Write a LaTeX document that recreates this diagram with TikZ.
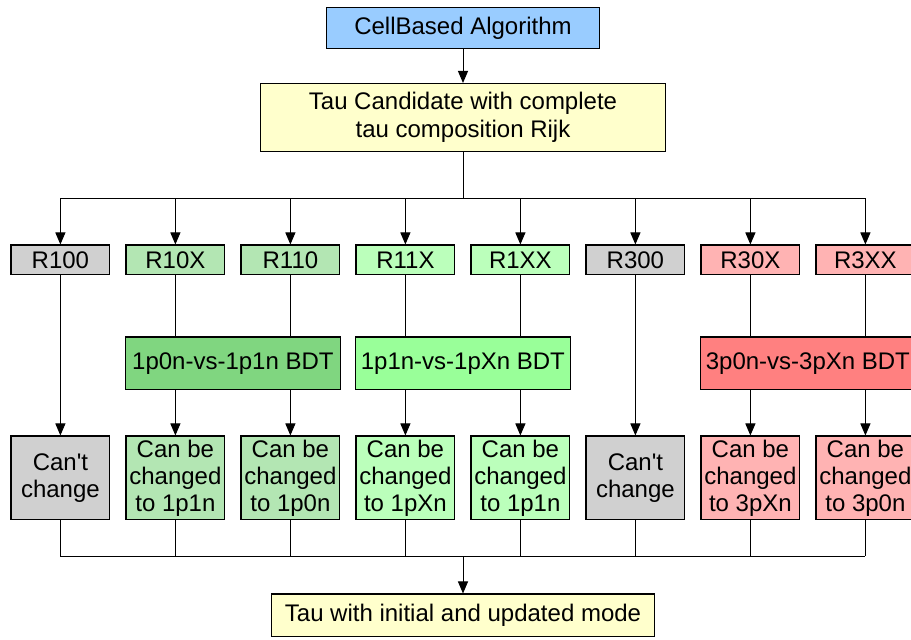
\documentclass[tikz,border=0pt]{standalone}
\usepackage{fontspec}
\setmainfont{Liberation Sans}
\usepackage{tikz}
\usetikzlibrary{
  arrows.meta,
  positioning,
  calc,
}

\definecolor{algoblue}{HTML}{99CCFF}
\definecolor{candyellow}{HTML}{FFFFCC}
\definecolor{greybox}{HTML}{D0D0D0}
\definecolor{oneplight}{HTML}{B3E6B3}
\definecolor{onepdark}{HTML}{80D680}
\definecolor{onexlight}{HTML}{BBFFBB}
\definecolor{onexdark}{HTML}{99FF99}
\definecolor{threelight}{HTML}{FFB3B3}
\definecolor{threedark}{HTML}{FF8080}

\begin{document}
\begin{tikzpicture}[
  >={Triangle[length=6pt,width=5pt]},
  topblock/.style={
    draw, line width=0.7pt, align=center, inner sep=1pt,
    font=\fontsize{12}{14}\selectfont,
  },
  rbox/.style={
    draw, line width=0.7pt, minimum width=49.3pt, minimum height=14.8pt,
    inner sep=1pt, font=\fontsize{12}{13.5}\selectfont,
  },
  bdtbox/.style={rbox, minimum width=107.3pt, minimum height=26.3pt},
  outbox/.style={rbox, align=center, minimum height=41.8pt},
  link/.style={line width=0.5pt},
  flow/.style={->, line width=0.5pt},
]
\useasboundingbox (0,0) rectangle (455.5pt,-320pt);

% ── Top of the chain ────────────────────────────────────────────────
\node[topblock, fill=algoblue, minimum width=136.3pt, minimum height=20.3pt]
  (algo) at (231.5pt,-14pt) {CellBased Algorithm};
\node[topblock, fill=candyellow, minimum width=202.3pt, minimum height=33.8pt,
      below=17pt of algo] (tau)
  {Tau Candidate with complete\\tau composition Rijk};

% ── Decay modes Rijk ────────────────────────────────────────────────
\node[rbox, fill=greybox] (r100) at (30.2pt,-130pt) {R100};
\node[rbox, fill=oneplight, right=7.5pt of r100]   (r10x) {R10X};
\node[rbox, fill=oneplight, right=7.5pt of r10x]   (r110) {R110};
\node[rbox, fill=onexlight, right=7.5pt of r110]   (r11x) {R11X};
\node[rbox, fill=onexlight, right=7.5pt of r11x]   (r1xx) {R1XX};
\node[rbox, fill=greybox, right=7.5pt of r1xx]     (r300) {R300};
\node[rbox, fill=threelight, right=7.5pt of r300]  (r30x) {R30X};
\node[rbox, fill=threelight, right=7.5pt of r30x]  (r3xx) {R3XX};

% ── BDTs ────────────────────────────────────────────────────────────
\coordinate (mid1) at ($(r10x.south)!0.5!(r110.south)$);
\coordinate (mid2) at ($(r11x.south)!0.5!(r1xx.south)$);
\coordinate (mid3) at ($(r30x.south)!0.5!(r3xx.south)$);
\node[bdtbox, fill=onepdark, below=30.5pt of mid1]  (bdt1) {1p0n-vs-1p1n BDT};
\node[bdtbox, fill=onexdark, below=30.5pt of mid2]  (bdt2) {1p1n-vs-1pXn BDT};
\node[bdtbox, fill=threedark, below=30.5pt of mid3] (bdt3) {3p0n-vs-3pXn BDT};

% ── Outcomes ────────────────────────────────────────────────────────
\node[outbox, fill=greybox, below=80pt of r100]    (c100) {Can\textquotesingle t\\change};
\node[outbox, fill=oneplight, below=80pt of r10x]  (c10x) {Can be\\changed\\to 1p1n};
\node[outbox, fill=oneplight, below=80pt of r110]  (c110) {Can be\\changed\\to 1p0n};
\node[outbox, fill=onexlight, below=80pt of r11x]  (c11x) {Can be\\changed\\to 1pXn};
\node[outbox, fill=onexlight, below=80pt of r1xx]  (c1xx) {Can be\\changed\\to 1p1n};
\node[outbox, fill=greybox, below=80pt of r300]    (c300) {Can\textquotesingle t\\change};
\node[outbox, fill=threelight, below=80pt of r30x] (c30x) {Can be\\changed\\to 3pXn};
\node[outbox, fill=threelight, below=80pt of r3xx] (c3xx) {Can be\\changed\\to 3p0n};

\coordinate (join) at ($(c100.south -| tau.south) + (0,-18pt)$);
\node[topblock, fill=candyellow, minimum width=191.3pt, minimum height=21.3pt,
      below=18.5pt of join] (final) {Tau with initial and updated mode};

% ── Connections: split ──────────────────────────────────────────────
\coordinate[below=23.25pt of tau] (split);
\draw[flow] (algo) -- (tau);
\draw[link] (tau) -- (split);
\draw[link] (split -| r100) -- (split -| r3xx);
\draw[flow] (split -| r100) -- (r100);
\draw[flow] (split -| r10x) -- (r10x);
\draw[flow] (split -| r110) -- (r110);
\draw[flow] (split -| r11x) -- (r11x);
\draw[flow] (split -| r1xx) -- (r1xx);
\draw[flow] (split -| r300) -- (r300);
\draw[flow] (split -| r30x) -- (r30x);
\draw[flow] (split -| r3xx) -- (r3xx);

% ── Connections: through the BDTs ───────────────────────────────────
\draw[flow] (r100) -- (c100);
\draw[flow] (r300) -- (c300);
\draw[link] (r10x) -- (r10x |- bdt1.north);
\draw[link] (r110) -- (r110 |- bdt1.north);
\draw[link] (r11x) -- (r11x |- bdt2.north);
\draw[link] (r1xx) -- (r1xx |- bdt2.north);
\draw[link] (r30x) -- (r30x |- bdt3.north);
\draw[link] (r3xx) -- (r3xx |- bdt3.north);
\draw[flow] (r10x |- bdt1.south) -- (c10x);
\draw[flow] (r110 |- bdt1.south) -- (c110);
\draw[flow] (r11x |- bdt2.south) -- (c11x);
\draw[flow] (r1xx |- bdt2.south) -- (c1xx);
\draw[flow] (r30x |- bdt3.south) -- (c30x);
\draw[flow] (r3xx |- bdt3.south) -- (c3xx);

% ── Connections: merge ──────────────────────────────────────────────
\draw[link] (c100) -- (join -| c100);
\draw[link] (c10x) -- (join -| c10x);
\draw[link] (c110) -- (join -| c110);
\draw[link] (c11x) -- (join -| c11x);
\draw[link] (c1xx) -- (join -| c1xx);
\draw[link] (c300) -- (join -| c300);
\draw[link] (c30x) -- (join -| c30x);
\draw[link] (c3xx) -- (join -| c3xx);
\draw[link] (join -| c100) -- (join -| c3xx);
\draw[flow] (join) -- (final);

\end{tikzpicture}
\end{document}
